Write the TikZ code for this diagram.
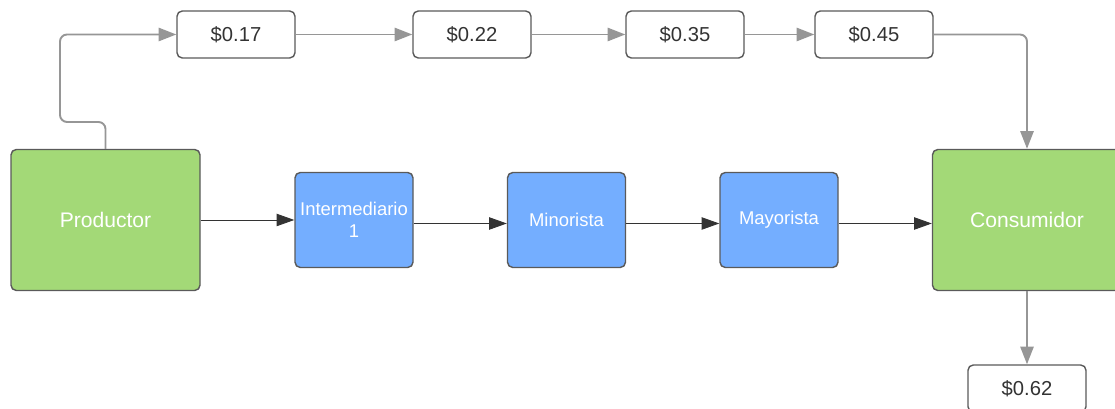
\documentclass[tikz,border=0pt]{standalone}
\usepackage{fontspec}
\setmainfont{Liberation Sans}
\usetikzlibrary{arrows.meta}
\definecolor{leaf}{RGB}{163, 217, 119}
\definecolor{sky}{RGB}{116, 174, 255}
\definecolor{edge}{RGB}{90, 90, 90}
\definecolor{wire}{RGB}{150, 150, 150}
\tikzset{
  endbox/.style={draw=edge, line width=0.8pt, fill=leaf, rounded corners=3pt, minimum width=3.78cm, minimum height=2.82cm, inner sep=0pt, text=white, font=\fontsize{12}{14}\selectfont},
  midbox/.style={draw=edge, line width=0.8pt, fill=sky, rounded corners=3pt, minimum width=2.36cm, minimum height=1.9cm, inner sep=0pt, text=white, align=center, font=\fontsize{10.5}{12.5}\selectfont},
  pricebox/.style={draw=edge, line width=0.8pt, fill=white, rounded corners=3pt, minimum width=2.36cm, minimum height=0.94cm, inner sep=0pt, text=black!80, font=\fontsize{11.5}{13}\selectfont},
  flow/.style={draw=black!80, line width=0.5pt, -{Triangle[length=10pt, width=7pt]}},
  cost/.style={draw=wire, line width=1.1pt, rounded corners=4pt, -{Triangle[length=10pt, width=7.5pt]}}
}

\begin{document}
\begin{tikzpicture}
\useasboundingbox (0, 0) rectangle (22.3, 8.18);
\node[endbox] (prod) at (2.11, 3.78) {Productor};
\node[midbox] (inter) at (7.08, 3.78) {Intermediario\\1};
\node[midbox] (mino) at (11.33, 3.78) {Minorista};
\node[midbox] (mayo) at (15.58, 3.78) {Mayorista};
\node[endbox] (cons) at (20.54, 3.78) {Consumidor};
\node[pricebox] (p17) at (4.72, 7.49) {\$0.17};
\node[pricebox] (p22) at (9.44, 7.49) {\$0.22};
\node[pricebox] (p35) at (13.70, 7.49) {\$0.35};
\node[pricebox] (p45) at (17.48, 7.49) {\$0.45};
\node[pricebox] (p62) at (20.54, 0.41) {\$0.62};
\coordinate (bend) at (1.2, 5.74);
\draw[flow] (prod) -- (inter);
\draw[flow] ([yshift=-0.07cm]inter.east) -- ([yshift=-0.07cm]mino.west);
\draw[flow] ([yshift=-0.07cm]mino.east) -- ([yshift=-0.07cm]mayo.west);
\draw[flow] ([yshift=-0.07cm]mayo.east) -- ([yshift=-0.07cm]cons.west);
\draw[cost] (prod.north) |- (bend) |- (p17.west);
\draw[cost] (p17) -- (p22);
\draw[cost] (p22) -- (p35);
\draw[cost] (p35) -- (p45);
\draw[cost] (p45.east) -| (cons.north);
\draw[cost] (cons) -- (p62);
\end{tikzpicture}
\end{document}
